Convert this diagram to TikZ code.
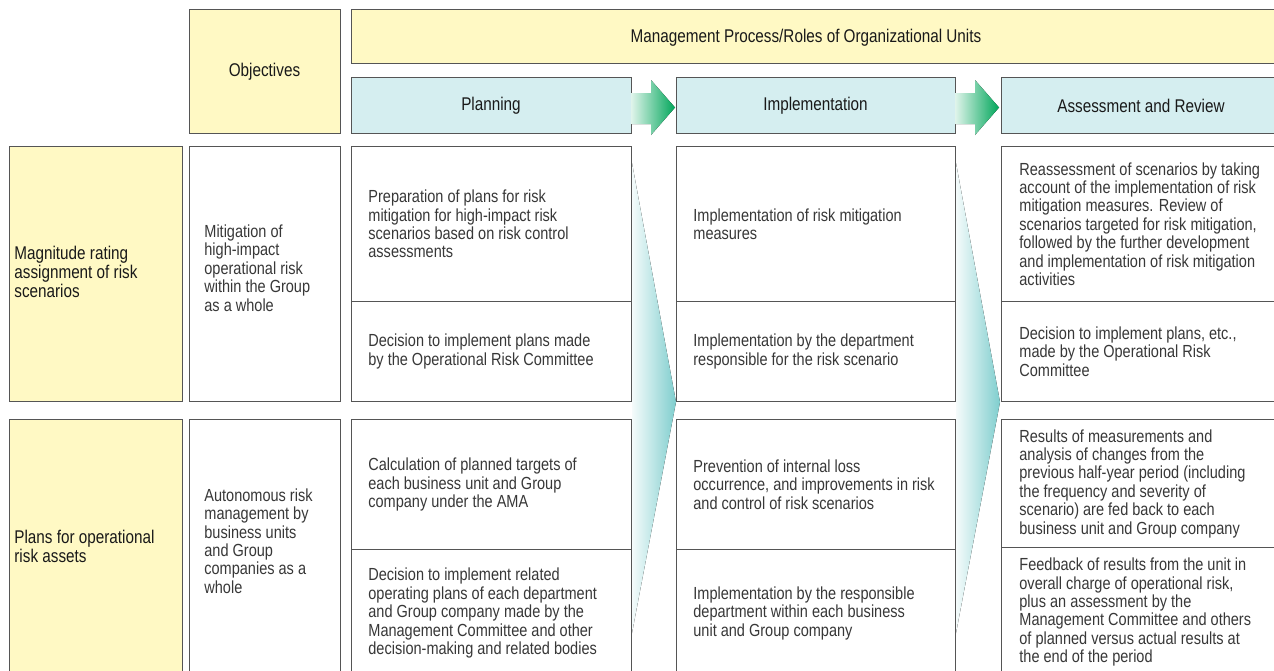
\documentclass[tikz,border=0pt]{standalone}
\usepackage{fontspec}
\setmainfont[FakeStretch=0.83]{Liberation Sans}
\usetikzlibrary{positioning}
\definecolor{boxyellow}{HTML}{FFF9C4}
\definecolor{boxblue}{HTML}{D5EEF0}
\definecolor{boxline}{HTML}{555555}
\definecolor{textgray}{HTML}{383838}
\definecolor{arrowgreen}{HTML}{00A65A}
\definecolor{wedgeteal}{HTML}{7FCECE}
\newcommand{\cellfont}{\fontsize{8.75}{9.2}\selectfont}
\newcommand{\headfont}{\fontsize{9.2}{9.4}\selectfont}
\tikzset{
	cell/.style={draw=boxline, line width=0.6pt, fill=white, anchor=north west, inner sep=0pt},
	headcell/.style={cell, fill=boxblue, align=center, font=\headfont, text=black!90},
	rowcell/.style={cell, fill=boxyellow},
	celltext/.style={anchor=west, inner sep=0pt, align=left, font=\cellfont, text=textgray},
	rowtext/.style={celltext, font=\headfont, text=black!90},
	stepflow/.style={draw=none, left color=arrowgreen!12, right color=arrowgreen},
	wedge/.style={draw=none, left color=wedgeteal!8, right color=wedgeteal},
}
\begin{document}
\begin{tikzpicture}[x=0.5pt,y=-0.5pt]
	\useasboundingbox (0,0) rectangle (1274,670);
	\clip (0,0) rectangle (1274,670);
	% headers
	\node[rowcell, minimum width=75.5pt, minimum height=62pt] (obj) at (189,9) {};
	\node[rowtext, anchor=center] (obj-t) at (264.5,72) {Objectives};
	\node[rowcell, minimum width=465pt, minimum height=27pt] (mgmt) at (351,9) {};
	\node[rowtext, anchor=center] (mgmt-t) at (806,37.5) {Management Process/Roles of Organizational Units};
	\node[headcell, minimum width=140pt, minimum height=28pt] (plan) at (351,77) {};
	\node[rowtext, anchor=center] (plan-t) at (491,105.5) {Planning};
	\node[headcell, minimum width=139.5pt, minimum height=28pt] (impl) at (676,77) {};
	\node[rowtext, anchor=center] (impl-t) at (815.5,105.5) {Implementation};
	\node[headcell, minimum width=140pt, minimum height=28pt] (assess) at (1001,77) {};
	\node[rowtext, anchor=center] (assess-t) at (1141,105.5) {Assessment and Review};
	% step arrows
	\foreach \a in {631,955}{
		\fill[stepflow] (\a,93) -- ({\a+20},93) -- ({\a+20},80) -- ({\a+44},107.5) -- ({\a+20},135) -- ({\a+20},124) -- (\a,124) -- cycle;
	}
	% row 1
	\node[rowcell, minimum width=86.5pt, minimum height=127.5pt] (mag) at (9,146) {};
	\node[rowtext] (mag-t) at ([xshift=2.5pt,yshift=1pt]mag.west) {Magnitude rating\\assignment of risk\\scenarios};
	\node[cell, minimum width=75.5pt, minimum height=127.5pt] (obj1) at (189,146) {};
	\node[celltext] (obj1-t) at ([xshift=7.5pt,yshift=3pt]obj1.west) {Mitigation of\\high-impact\\operational risk\\within the Group\\as a whole};
	\node[cell, minimum width=140pt, minimum height=77.5pt] (plan1a) at (351,146) {};
	\node[celltext] (plan1a-t) at ([xshift=8.5pt]plan1a.west) {Preparation of plans for risk\\mitigation for high-impact risk\\scenarios based on risk control\\assessments};
	\node[cell, minimum width=140pt, minimum height=50pt] (plan1b) at (351,301) {};
	\node[celltext] (plan1b-t) at ([xshift=8.5pt]plan1b.west) {Decision to implement plans made\\by the Operational Risk Committee};
	\node[cell, minimum width=139.5pt, minimum height=77.5pt] (impl1a) at (676,146) {};
	\node[celltext] (impl1a-t) at ([xshift=8.5pt]impl1a.west) {Implementation of risk mitigation\\measures};
	\node[cell, minimum width=139.5pt, minimum height=50pt] (impl1b) at (676,301) {};
	\node[celltext] (impl1b-t) at ([xshift=8.5pt]impl1b.west) {Implementation by the department\\responsible for the risk scenario};
	\node[cell, minimum width=140pt, minimum height=77.5pt] (assess1a) at (1001,146) {};
	\node[celltext] (assess1a-t) at ([xshift=9pt]assess1a.west) {Reassessment of scenarios by taking\\account of the implementation of risk\\mitigation measures. Review of\\scenarios targeted for risk mitigation,\\followed by the further development\\and implementation of risk mitigation\\activities};
	\node[cell, minimum width=140pt, minimum height=50pt] (assess1b) at (1001,301) {};
	\node[celltext] (assess1b-t) at ([xshift=9pt]assess1b.west) {Decision to implement plans, etc.,\\made by the Operational Risk\\Committee};
	% row 2
	\node[rowcell, minimum width=86.5pt, minimum height=128.5pt] (plans) at (9,419) {};
	\node[rowtext] (plans-t) at ([xshift=2.5pt,yshift=1pt]plans.west) {Plans for operational\\risk assets};
	\node[cell, minimum width=75.5pt, minimum height=128.5pt] (obj2) at (189,419) {};
	\node[celltext] (obj2-t) at ([xshift=7.5pt,yshift=3.5pt]obj2.west) {Autonomous risk\\management by\\business units\\and Group\\companies as a\\whole};
	\node[cell, minimum width=140pt, minimum height=65pt] (plan2a) at (351,419) {};
	\node[celltext] (plan2a-t) at ([xshift=8.5pt]plan2a.west) {Calculation of planned targets of\\each business unit and Group\\company under the AMA};
	\node[cell, minimum width=140pt, minimum height=63.5pt] (plan2b) at (351,549) {};
	\node[celltext] (plan2b-t) at ([xshift=8.5pt]plan2b.west) {Decision to implement related\\operating plans of each department\\and Group company made by the\\Management Committee and other\\decision-making and related bodies};
	\node[cell, minimum width=139.5pt, minimum height=65pt] (impl2a) at (676,419) {};
	\node[celltext] (impl2a-t) at ([xshift=8.5pt]impl2a.west) {Prevention of internal loss\\occurrence, and improvements in risk\\and control of risk scenarios};
	\node[cell, minimum width=139.5pt, minimum height=63.5pt] (impl2b) at (676,549) {};
	\node[celltext] (impl2b-t) at ([xshift=8.5pt]impl2b.west) {Implementation by the responsible\\department within each business\\unit and Group company};
	\node[cell, minimum width=140pt, minimum height=64pt] (assess2a) at (1001,419) {};
	\node[celltext] (assess2a-t) at ([xshift=9pt]assess2a.west) {Results of measurements and\\analysis of changes from the\\previous half-year period (including\\the frequency and severity of\\scenario) are fed back to each\\business unit and Group company};
	\node[cell, minimum width=140pt, minimum height=64.5pt] (assess2b) at (1001,547) {};
	\node[celltext] (assess2b-t) at ([xshift=9pt]assess2b.west) {Feedback of results from the unit in\\overall charge of operational risk,\\plus an assessment by the\\Management Committee and others\\of planned versus actual results at\\the end of the period};
	% flow wedges
	\foreach \a in {632,956}{
		\fill[wedge] (\a,163) -- ({\a+44},402) -- (\a,633) -- cycle;
	}
\end{tikzpicture}
\end{document}
